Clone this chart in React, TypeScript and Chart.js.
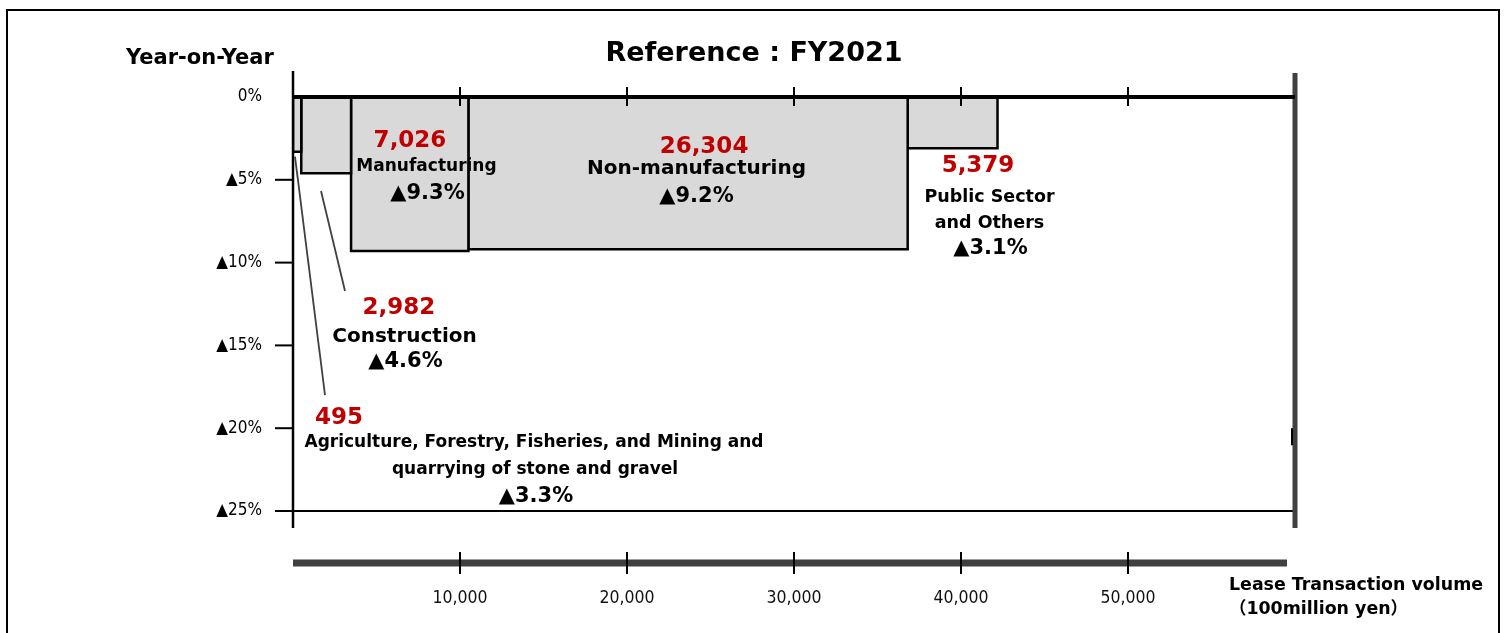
import React, { useEffect, useRef } from "react";
import { Chart, registerables } from "chart.js";

Chart.register(...registerables);

// ---------------- Data ----------------
const categories = [
  "Agriculture, Forestry, Fisheries, and Mining and quarrying of stone and gravel",
  "Construction",
  "Manufacturing",
  "Non-manufacturing",
  "Public Sector and Others",
];
const categoryLines = [
  ["Agriculture, Forestry, Fisheries, and Mining and", "quarrying of stone and gravel"],
  ["Construction"],
  ["Manufacturing"],
  ["Non-manufacturing"],
  ["Public Sector", "and Others"],
];
const volumes = [495, 2982, 7026, 26304, 5379]; // 100 million yen
const yoyDecline = [3.3, 4.6, 9.3, 9.2, 3.1]; // % decrease (▲)
const xTicks = [10000, 20000, 30000, 40000, 50000];
const yTicks = [0, -5, -10, -15, -20, -25];
const yTickLabels = ["0%", "▲5%", "▲10%", "▲15%", "▲20%", "▲25%"];
const X_MAX = 60000;
const Y_MIN = -28.14;

// ---------------- Annotation layout (data coordinates) ----------------
const labelLayout = [
  { num: [2754, -19.38], names: [[14431, -20.89], [14491, -22.52]], pct: [14551, -24.15], nameSize: 17 },
  { num: [6347, -12.74], names: [[6677, -14.49]], pct: [6737, -16.0], nameSize: 20 },
  { num: [7006, -2.66], names: [[7994, -4.23]], pct: [8054, -5.86], nameSize: 17 },
  { num: [24611, -3.02], names: [[24162, -4.35]], pct: [24162, -6.04], nameSize: 20 },
  { num: [41018, -4.17], names: [[41706, -6.04], [41706, -7.61]], pct: [41766, -9.18], nameSize: 17.5 },
];
const leaderLines = [
  [[120, -3.6], [1916, -18.0]],
  [[1677, -5.68], [3114, -11.71]],
];

const LABEL_FONT = "'DejaVu Sans', 'Noto Sans CJK JP', sans-serif";
const TICK_FONT = "'Liberation Sans Narrow', 'DejaVu Sans Condensed', 'Liberation Sans', sans-serif";

const decorPlugin = {
  id: "decor",
  afterDatasetsDraw(chart: any) {
    const { ctx, chartArea: ca, scales } = chart;
    const xs = scales.x;
    const ys = scales.y;
    const X = (v: number) => xs.getPixelForValue(v);
    const Y = (v: number) => ys.getPixelForValue(v);
    const line = (x1: number, y1: number, x2: number, y2: number, w: number, c: string) => {
      ctx.beginPath();
      ctx.lineWidth = w;
      ctx.strokeStyle = c;
      ctx.moveTo(x1, y1);
      ctx.lineTo(x2, y2);
      ctx.stroke();
    };
    ctx.save();
    ctx.lineCap = "butt";
    // ▲25% line
    line(ca.left, Y(-25), ca.right, Y(-25), 2, "#000");
    // left tick marks
    yTicks.slice(1).forEach((v) => line(ca.left - 18, Y(v), ca.left, Y(v), 2, "#000"));
    // left axis
    line(ca.left, Y(0) - 26, ca.left, Y(-25) + 17, 2.5, "#000");
    // right axis
    line(ca.right, Y(0) - 24, ca.right, Y(-25) + 17, 5, "#404040");
    line(ca.right - 3, Y(-20), ca.right - 3, Y(-20) + 17, 2, "#000");
    // 0% line
    line(ca.left, Y(0), ca.right, Y(0), 4, "#000");
    // top tick marks
    xTicks.forEach((v) => line(X(v), Y(0) - 10, X(v), Y(0) + 9, 2, "#000"));
    // bottom volume axis
    line(ca.left, ca.bottom, ca.right - 8, ca.bottom, 7, "#404040");
    xTicks.forEach((v) => line(X(v), ca.bottom - 11, X(v), ca.bottom + 11, 2, "#000"));
    // leader lines
    leaderLines.forEach(([a, b]) => line(X(a[0]), Y(a[1]), X(b[0]), Y(b[1]), 1.8, "#404040"));

    // texts
    ctx.textAlign = "center";
    ctx.textBaseline = "middle";
    const text = (s: string, p: number[], size: number, color: string) => {
      ctx.font = `bold ${size}px ${LABEL_FONT}`;
      ctx.fillStyle = color;
      ctx.fillText(s, X(p[0]), Y(p[1]));
    };
    labelLayout.forEach((lay, i) => {
      text(volumes[i].toLocaleString("en-US"), lay.num, 23, "#c00000");
      categoryLines[i].forEach((s, j) => text(s, lay.names[j], lay.nameSize, "#000"));
      text("▲" + yoyDecline[i].toFixed(1) + "%", lay.pct, 21, "#000");
    });
    ctx.restore();
  },
};

export default function App() {
  const ref = useRef<HTMLCanvasElement | null>(null);

  useEffect(() => {
    if (!ref.current) return;
    const starts: number[] = [];
    volumes.reduce((acc, v) => {
      starts.push(acc);
      return acc + v;
    }, 0);
    const datasets = volumes.map((v, i) => {
      const x0 = starts[i];
      const x1 = x0 + v;
      const h = -yoyDecline[i];
      return {
        label: categories[i],
        data: [
          { x: x0, y: 0 },
          { x: x0, y: h },
          { x: x1, y: h },
          { x: x1, y: 0 },
        ],
        showLine: true,
        fill: "origin",
        backgroundColor: "#d9d9d9",
        borderColor: "#000",
        borderWidth: 2.5,
        pointRadius: 0,
        pointHoverRadius: 0,
        tension: 0,
      };
    });
    const tickFont = { family: TICK_FONT, size: 17 };
    const chart = new Chart(ref.current, {
      type: "scatter",
      data: { datasets: datasets as any },
      options: {
        responsive: false,
        animation: false,
        events: [],
        layout: { padding: { left: 0, right: 211, top: 97, bottom: 0 } },
        plugins: {
          legend: { display: false },
          tooltip: { enabled: false },
          title: { display: false },
        },
        scales: {
          x: {
            type: "linear",
            min: 0,
            max: X_MAX,
            afterBuildTicks: (s: any) => {
              s.ticks = [0, ...xTicks, X_MAX].map((value) => ({ value }));
            },
            afterFit: (s: any) => {
              s.height = 70;
            },
            grid: { display: false, drawTicks: false },
            border: { display: false },
            ticks: {
              padding: 25,
              color: "#111",
              font: { family: TICK_FONT, size: 17.5 },
              autoSkip: false,
              maxRotation: 0,
              callback: (v: any) => (xTicks.includes(Number(v)) ? Number(v).toLocaleString("en-US") : ""),
            },
          },
          y: {
            type: "linear",
            min: Y_MIN,
            max: 0,
            afterBuildTicks: (s: any) => {
              s.ticks = yTicks.map((value) => ({ value }));
            },
            afterFit: (s: any) => {
              s.width = 293;
            },
            grid: { display: false, drawTicks: false },
            border: { display: false },
            ticks: {
              padding: 31,
              color: "#000",
              font: tickFont,
              autoSkip: false,
              callback: (v: any) => {
                const idx = yTicks.indexOf(Number(v));
                return idx >= 0 ? yTickLabels[idx] : "";
              },
            },
          },
        },
      } as any,
      plugins: [decorPlugin],
    });
    return () => chart.destroy();
  }, []);

  const bold = { fontFamily: LABEL_FONT, fontWeight: 700, color: "#000", position: "absolute" as const, whiteSpace: "nowrap" as const };

  return (
    <div style={{ position: "fixed", left: 0, top: 0, width: 1506, height: 633, overflow: "hidden", background: "#fff" }}>
      <div
        style={{
          position: "absolute",
          left: 6,
          top: 9,
          width: 1494,
          height: 700,
          border: "2px solid #000",
          boxSizing: "border-box",
        }}
      />
      <canvas ref={ref} width={1506} height={633} style={{ position: "absolute", left: 0, top: 0, width: 1506, height: 633 }} />
      <div style={{ ...bold, left: 0, width: 1508, textAlign: "center", top: 36, fontSize: 27, lineHeight: "32px" }}>
        Reference : FY2021
      </div>
      <div style={{ ...bold, left: 126, top: 44, fontSize: 21, lineHeight: "26px" }}>Year-on-Year</div>
      <div style={{ ...bold, left: 1229, top: 572, fontSize: 17.4, lineHeight: "24px" }}>
        Lease Transaction volume
        <br />
        （100million yen）
      </div>
    </div>
  );
}
